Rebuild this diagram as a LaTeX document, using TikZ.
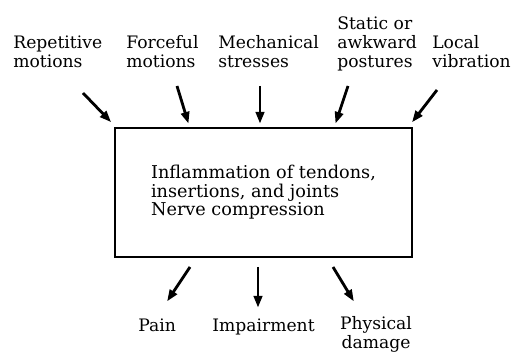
\documentclass[tikz,border=0pt]{standalone}
\usepackage{fontspec}
\setmainfont{DejaVu Serif}
\usetikzlibrary{arrows.meta}

\begin{document}
\begin{tikzpicture}[
        x=0.6pt, y=-0.6pt,
        cause/.style={inner sep=0pt, align=left, anchor=base west, font=\fontsize{10.3}{11.4}\selectfont},
        effect/.style={inner sep=0pt, align=center, anchor=base west, font=\fontsize{10.3}{11.4}\selectfont},
        disorder/.style={rectangle, draw, line width=1.2pt, minimum width=178pt, minimum height=77pt, align=left, font=\fontsize{10.6}{11.1}\selectfont},
        arrow/.style={-{Triangle[length=7pt, width=5pt]}, line width=1.7pt, shorten >=-1pt}
    ]
        \useasboundingbox (0,0) rectangle (511,352);

        % Causes (anchored at the baseline of their last line)
        \node[cause] (rep) at (13,68) {Repetitive\\motions};
        \node[cause] (force) at (126,68) {Forceful\\motions};
        \node[cause] (mech) at (218,68) {Mechanical\\stresses};
        \node[cause] (stat) at (337,68) {Static or\\awkward\\postures};
        \node[cause] (vib) at (432,68) {Local\\vibration};

        % Disorder box
        \node[disorder] (box) at (263.5,192.5) {Inflammation of tendons,\\insertions, and joints\\Nerve compression};

        % Effects
        \node[effect] (pain) at (138,332) {Pain};
        \node[effect] (impair) at (212,332) {Impairment};
        \node[effect, anchor=base] (damage) at (376,349) {Physical\\damage};

        % Arrow ends
        \coordinate (rep-from) at (83,93);     \coordinate (rep-to) at (110,121);
        \coordinate (force-from) at (177,86);  \coordinate (force-to) at (188,122);
        \coordinate (mech-from) at (260,86);   \coordinate (mech-to) at (260,122);
        \coordinate (stat-from) at (348,86);   \coordinate (stat-to) at (336,122);
        \coordinate (vib-from) at (437,90);    \coordinate (vib-to) at (413,121);
        \coordinate (pain-from) at (190,267);  \coordinate (pain-to) at (168,300);
        \coordinate (impair-from) at (258,267); \coordinate (impair-to) at (258,306);
        \coordinate (damage-from) at (333,267); \coordinate (damage-to) at (353,300);

        \foreach \n in {rep, force, mech, stat, vib, pain, impair, damage}
            \draw[arrow] (\n-from) -- (\n-to);
    \end{tikzpicture}
\end{document}
